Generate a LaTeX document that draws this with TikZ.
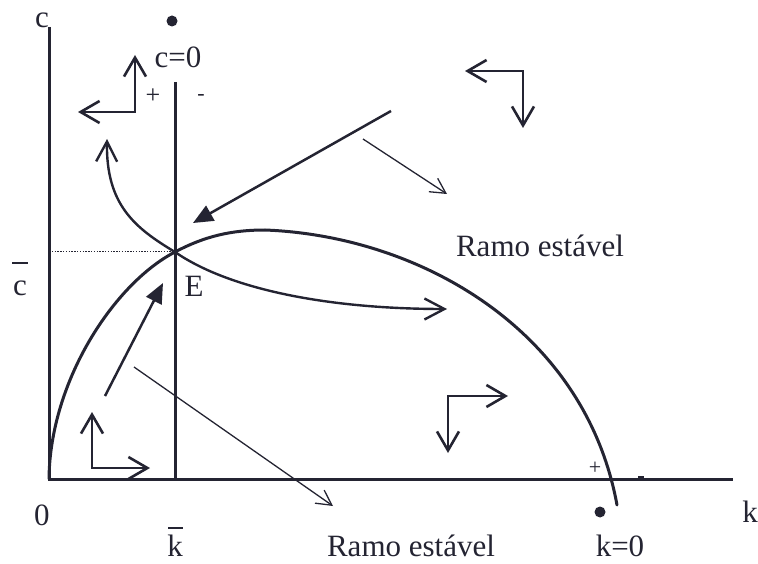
\documentclass[tikz,border=0pt]{standalone}
\usepackage{fontspec}
\setmainfont{Liberation Serif}
\usetikzlibrary{arrows.meta}
\definecolor{ink}{RGB}{36,36,50}
\begin{document}
\begin{tikzpicture}[x=1pt,y=-1pt, color=ink,
  axis/.style={line width=3pt, line join=miter},
  saddle/.style={line width=3pt, line cap=round},
  traj/.style={line width=2.4pt},
  thinarrow/.style={line width=1.3pt, -{Straight Barb[length=15pt,width=16pt]}},
  fatarrow/.style={line width=2.5pt, -{Triangle[length=20pt,width=17pt]}},
  dirarrow/.style={line width=2.6pt, line join=miter, {Straight Barb[length=19pt,width=22pt]}-{Straight Barb[length=19pt,width=22pt]}},
  dots/.style={line width=1pt, dash pattern=on 1.4pt off 1.4pt},
  lbl/.style={inner sep=0pt, text=ink, font=\fontsize{31}{36}\selectfont},
  sgn/.style={inner sep=0pt, text=ink, font=\fontsize{26}{30}\selectfont},
  dot/.style={fill=ink, draw=none}
]
\useasboundingbox (0,0) rectangle (758,564);

% key points
\coordinate (O) at (49,479);
\coordinate (Ctop) at (49,27);
\coordinate (Kend) at (733,479);
\coordinate (E) at (175,252);
\coordinate (Ltop) at (175,82);
\coordinate (Lbot) at (175,479);
\coordinate (P) at (265,230);
\coordinate (Kx) at (617,505);
\coordinate (U1) at (107,139);
\coordinate (U2) at (447,309);

% axes and c=0 locus
\draw[axis] (Ctop) -- (O) -- (Kend);
\draw[axis] (Ltop) -- (Lbot);
\draw[dots] (O |- E) -- (E);

% k=0 locus
\draw[saddle] (O) .. controls (50,380) and (115,283) .. (E)
  .. controls (205,236) and (232,230) .. (P)
  .. controls (420,236) and (585,330) .. (Kx);

% unstable branch through E
\draw[traj, -{Straight Barb[length=20pt,width=21pt]}] (E) .. controls (135,228) and (106,205) .. (U1);
\draw[traj, -{Straight Barb[length=20pt,width=21pt]}] (E) .. controls (230,290) and (330,309) .. (U2);

% trajectory arrows
\coordinate (A1s) at (391,111); \coordinate (A1e) at (193,223);
\draw[fatarrow] (A1s) -- (A1e);
\coordinate (A2s) at (105,396); \coordinate (A2e) at (163,283);
\draw[fatarrow] (A2s) -- (A2e);
\coordinate (T1s) at (363,139); \coordinate (T1e) at (447,194);
\draw[thinarrow] (T1s) -- (T1e);
\coordinate (T2s) at (134,367); \coordinate (T2e) at (333,506);
\draw[thinarrow] (T2s) -- (T2e);

% direction arrows (L shapes)
\coordinate (L1c) at (135,112); \coordinate (L1a) at (135,55); \coordinate (L1b) at (78,112);
\draw[dirarrow] (L1a) -- (L1c) -- (L1b);
\coordinate (L2c) at (523,71); \coordinate (L2a) at (465,71); \coordinate (L2b) at (523,128);
\draw[dirarrow] (L2a) -- (L2c) -- (L2b);
\coordinate (L3c) at (448,396); \coordinate (L3a) at (508,396); \coordinate (L3b) at (448,453);
\draw[dirarrow] (L3a) -- (L3c) -- (L3b);
\coordinate (L4c) at (92,468); \coordinate (L4a) at (92,412); \coordinate (L4b) at (150,468);
\draw[dirarrow] (L4a) -- (L4c) -- (L4b);

% dots
\fill[dot] (172,21) circle (5.5);
\fill[dot] (600,512) circle (5.5);

% labels
\node[lbl] (lc) at (42,20) {c};
\node[lbl] (lc0) at (178,57) {c=0};
\node[sgn] (lplus) at (153,96) {+};
\node[sgn, font=\fontsize{22}{26}\selectfont] (lminus) at (201,97) {-};
\node[lbl] (lcbar) at (20,288) {c};
\draw[line width=1.4pt] (12,263) -- (28,263);
\node[lbl] (lE) at (194,286) {E};
\node[lbl] (l0) at (42,515) {0};
\node[lbl] (lkbar) at (175,546) {k};
\draw[line width=1.4pt] (168,528) -- (183,528);
\node[lbl] (lk) at (750,512) {k};
\node[lbl] (lk0) at (620,546) {k=0};
\node[sgn, font=\fontsize{22}{26}\selectfont] (lplus2) at (595,468) {+};
\fill[dot] (638,475.5) rectangle (644,478);
\node[lbl] (r1) at (540,246) {Ramo estável};
\node[lbl] (r2) at (411,546) {Ramo estável};
\end{tikzpicture}
\end{document}
